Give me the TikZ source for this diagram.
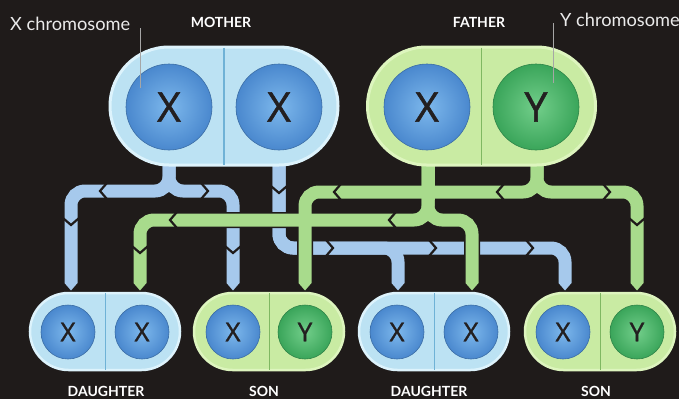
\documentclass[tikz,border=0pt]{standalone}
\usepackage{fontspec}
\setmainfont{Lato}
\newfontfamily\ballfont[FakeBold=1.3]{Open Sans}
\usetikzlibrary{shapes.misc}
\definecolor{bg}{HTML}{1F1B1A}
\definecolor{pipeblue}{HTML}{A6C9EC}
\definecolor{pipegreen}{HTML}{A8DB8C}
\definecolor{capblue}{HTML}{BCE2F3}
\definecolor{capblueedge}{HTML}{DDF3FC}
\definecolor{divblue}{HTML}{6FB2D6}
\definecolor{capgreen}{HTML}{C9EBA3}
\definecolor{capgreenedge}{HTML}{DDF5BE}
\definecolor{divgreen}{HTML}{7FB862}
\definecolor{xin}{HTML}{7DB8EC}
\definecolor{xout}{HTML}{4A88CE}
\definecolor{yin}{HTML}{72CE8A}
\definecolor{yout}{HTML}{3AA55A}
\definecolor{ink}{HTML}{231F20}
\tikzset{
  bigcap/.style={rounded rectangle, minimum width=228pt, minimum height=118pt, line width=3pt, inner sep=0pt},
  smallcap/.style={rounded rectangle, minimum width=150pt, minimum height=77pt, line width=2.5pt, inner sep=0pt},
  bluecap/.style={fill=capblue, draw=capblueedge},
  greencap/.style={fill=capgreen, draw=capgreenedge},
  xball/.style={circle, shade, inner color=xin, outer color=xout, draw=xout!80!black, line width=0.6pt, text=ink, inner sep=0pt},
  yball/.style={circle, shade, inner color=yin, outer color=yout, draw=yout!80!black, line width=0.6pt, text=ink, inner sep=0pt},
  bigball/.style={minimum size=86pt, font=\ballfont\fontsize{41}{41}\selectfont},
  smallball/.style={minimum size=54pt, font=\ballfont\fontsize{26}{26}\selectfont},
  pipeout/.style={draw=bg, line width=16pt, rounded corners=14pt},
  pipeb/.style={draw=pipeblue, line width=13pt, rounded corners=14pt},
  pipeg/.style={draw=pipegreen, line width=13pt, rounded corners=14pt},
  lab/.style={text=white!92!black, font=\fontsize{18.2}{18}\selectfont, inner sep=0pt},
  ttl/.style={text=white, font=\bfseries\fontsize{14}{14}\selectfont, inner sep=0pt},
  leader/.style={draw=white!65!black, line width=0.9pt},
  pics/chev/.style={code={\draw[bg, line width=2.2pt, line join=miter] (-3.5,-7.5) -- (3,0) -- (-3.5,7.5);}},
  pics/tipout/.style={code={\fill[bg] (-8,-1) -- (8,-1) -- (0,9) -- cycle;}},
  pics/tip/.style={code={\fill[#1] (-6.5,-1) -- (6.5,-1) -- (0,6.5) -- cycle;}},
}
\begin{document}
\begin{tikzpicture}[x=1pt,y=-1pt]
\fill[bg] (0,0) rectangle (679,399);
\useasboundingbox (0,0) rectangle (679,399);

% ---------- pipe coordinates
\coordinate (ms1) at (169,160);
\coordinate (ms2) at (279,160);
\coordinate (fs1) at (428,160);
\coordinate (fs2) at (537,160);
\coordinate (e1) at (71,284);
\coordinate (e2) at (140,284);
\coordinate (e3) at (233,284);
\coordinate (e4) at (305,284);
\coordinate (e5) at (398,284);
\coordinate (e6) at (472,284);
\coordinate (e7) at (565,284);
\coordinate (e8) at (637,284);

% ---------- blue pipes (mother)
\foreach \s in {pipeout,pipeb}{
  \draw[\s] (ms1) -- (ms1 |- 0,191) -- (e1 |- 0,191) -- (e1);
  \draw[\s] (ms1) -- (ms1 |- 0,191) -- (e3 |- 0,191) -- (e3);
  \draw[\s] (ms2) -- (ms2 |- 0,248) -- (e7 |- 0,248) -- (e7);
  \draw[\s] (ms2) -- (ms2 |- 0,248) -- (e5 |- 0,248) -- (e5);
}
\foreach \c in {e1,e3,e5,e7}{\pic at (\c) {tipout};}
\foreach \c in {e1,e3,e5,e7}{\pic at (\c) {tip=pipeblue};}
\pic[rotate=180] at (103,191) {chev};
\pic at (205,191) {chev};
\pic[rotate=-90] at (71,222) {chev};
\pic[rotate=-90] at (233,250) {chev};
\pic[rotate=-90] at (279,190) {chev};
\pic at (330,248) {chev};
\pic at (433,248) {chev};
\pic at (530,248) {chev};

% ---------- green pipes (father)
\foreach \s in {pipeout,pipeg}{
  \draw[\s] (fs2) -- (fs2 |- 0,192) -- (e4 |- 0,192) -- (e4);
  \draw[\s] (fs2) -- (fs2 |- 0,192) -- (e8 |- 0,192) -- (e8);
  \draw[\s] (fs1) -- (fs1 |- 0,220) -- (e2 |- 0,220) -- (e2);
  \draw[\s] (fs1) -- (fs1 |- 0,220) -- (e6 |- 0,220) -- (e6);
}
\draw[pipeg, rounded corners=0pt] (fs1) -- (fs1 |- 0,200);
\foreach \c in {e2,e4,e6,e8}{\pic at (\c) {tipout};}
\foreach \c in {e2,e4,e6,e8}{\pic at (\c) {tip=pipegreen};}
\pic[rotate=180] at (337,192) {chev};
\pic[rotate=180] at (500,192) {chev};
\pic at (607,192) {chev};
\pic[rotate=-90] at (637,222) {chev};
\pic[rotate=180] at (392,220) {chev};
\pic[rotate=180] at (173,220) {chev};
\pic[rotate=-90] at (140,250) {chev};

% ---------- parents
\node[bigcap, bluecap] (mother) at (224,106) {};
\draw[divblue, line width=1.2pt] ([yshift=-2pt]mother.north) -- ([yshift=2pt]mother.south);
\node[xball, bigball] (mx1) at (169,107) {X};
\node[xball, bigball] (mx2) at (279,107) {X};

\node[bigcap, greencap] (father) at (481.5,106) {};
\draw[divgreen, line width=1.2pt] ([yshift=-2pt]father.north) -- ([yshift=2pt]father.south);
\node[xball, bigball] (fx) at (427,107) {X};
\node[yball, bigball] (fy) at (536,107) {Y};

% ---------- children
\node[smallcap, bluecap] (d1) at (105,331.5) {};
\draw[divblue, line width=1pt] ([yshift=-1.5pt]d1.north) -- ([yshift=1.5pt]d1.south);
\node[xball, smallball] (d1a) at (68,332) {X};
\node[xball, smallball] (d1b) at (142,332) {X};

\node[smallcap, greencap] (s1) at (269,331.5) {};
\draw[divgreen, line width=1pt] ([yshift=-1.5pt]s1.north) -- ([yshift=1.5pt]s1.south);
\node[xball, smallball] (s1a) at (233,332) {X};
\node[yball, smallball] (s1b) at (305,332) {Y};

\node[smallcap, bluecap] (d2) at (434,331.5) {};
\draw[divblue, line width=1pt] ([yshift=-1.5pt]d2.north) -- ([yshift=1.5pt]d2.south);
\node[xball, smallball] (d2a) at (397,332) {X};
\node[xball, smallball] (d2b) at (471,332) {X};

\node[smallcap, greencap] (s2) at (600,331.5) {};
\draw[divgreen, line width=1pt] ([yshift=-1.5pt]s2.north) -- ([yshift=1.5pt]s2.south);
\node[xball, smallball] (s2a) at (563,332) {X};
\node[yball, smallball] (s2b) at (637,332) {Y};

% ---------- labels
\node[lab, anchor=west] (xlab) at (10,24) {X chromosome};
\node[lab, anchor=west] (ylab) at (560,20) {Y chromosome};
\coordinate (xl1) at (140,28);
\coordinate (xl2) at (140,88);
\coordinate (yl1) at (553,23);
\coordinate (yl2) at (553,83);
\draw[leader] (xl1) -- (xl2);
\draw[leader] (yl1) -- (yl2);
\node[ttl] (mlab) at (221,22) {MOTHER};
\node[ttl] (flab) at (479,22) {FATHER};
\node[ttl] (dl1) at (106,391) {DAUGHTER};
\node[ttl] (sl1) at (264,391) {SON};
\node[ttl] (dl2) at (429,391) {DAUGHTER};
\node[ttl] (sl2) at (596,391) {SON};
\end{tikzpicture}
\end{document}
